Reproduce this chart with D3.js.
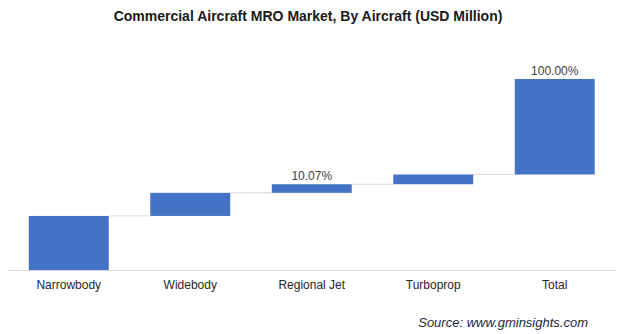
<!DOCTYPE html>
<html>
<head>
<meta charset="utf-8">
<script src="https://cdn.jsdelivr.net/npm/d3@7"></script>
<style>
  body { margin: 0; background: #fff; }
  svg { display: block; font-family: "Liberation Sans", Arial, sans-serif; }
</style>
</head>
<body>
<svg width="624" height="334"></svg>
<script>
// waterfall: share of MRO market by aircraft type
const categories = ['Narrowbody', 'Widebody', 'Regional Jet', 'Turboprop', 'Total'];
const values = [56.6, 24.2, 9.0, 10.2, 100];
const labels = ['', '', '10.07%', '', '100.00%'];

const svg = d3.select('svg');
const baseY = 270;

// running totals, total bar gets stacked on top like the source chart
let run = 0;
const steps = values.map((v, i) => {
  const s = { cat: categories[i], start: run, end: run + v, label: labels[i] };
  run += v;
  return s;
});

const x = d3.scaleBand()
  .domain(categories)
  .range([8, 615.5])
  .paddingInner(0.342)
  .paddingOuter(0.171);

const y = d3.scaleLinear()
  .domain([0, 200])
  .range([baseY, 79]);

svg.append('text')
  .attr('x', 308)
  .attr('y', 21)
  .attr('text-anchor', 'middle')
  .attr('font-size', 14)
  .attr('font-weight', 'bold')
  .attr('fill', '#1a1a1a')
  .text('Commercial Aircraft MRO Market, By Aircraft (USD Million)');

// connectors
svg.append('g').selectAll('line')
  .data(steps.slice(0, -1))
  .enter().append('line')
  .attr('x1', (d) => x(d.cat) + x.bandwidth())
  .attr('x2', (d, i) => x(categories[i + 1]))
  .attr('y1', (d) => y(d.end))
  .attr('y2', (d) => y(d.end))
  .attr('stroke', '#d9d9d9')
  .attr('stroke-width', 1);

svg.append('g').selectAll('rect')
  .data(steps)
  .enter().append('rect')
  .attr('x', (d) => x(d.cat))
  .attr('y', (d) => y(d.end))
  .attr('width', x.bandwidth())
  .attr('height', (d) => y(d.start) - y(d.end))
  .attr('fill', '#4472c4');

svg.append('g').selectAll('text')
  .data(steps.filter((d) => d.label))
  .enter().append('text')
  .attr('x', (d) => x(d.cat) + x.bandwidth() / 2)
  .attr('y', (d) => y(d.end) - 4)
  .attr('text-anchor', 'middle')
  .attr('font-size', 12)
  .attr('fill', '#404040')
  .text((d) => d.label);

// x axis
const axis = svg.append('g')
  .attr('transform', `translate(0, ${baseY})`)
  .call(d3.axisBottom(x).tickSize(0).tickPadding(10));
axis.select('.domain').attr('stroke', '#d9d9d9').attr('d', 'M8,0.5H615.5');
axis.selectAll('text')
  .attr('font-size', 12)
  .attr('font-family', '"Liberation Sans", Arial, sans-serif')
  .attr('fill', '#262626');

svg.append('text')
  .attr('x', 588)
  .attr('y', 327)
  .attr('text-anchor', 'end')
  .attr('font-size', 13)
  .attr('font-style', 'italic')
  .attr('fill', '#1f1f3a')
  .text('Source: www.gminsights.com');
</script>
</body>
</html>
